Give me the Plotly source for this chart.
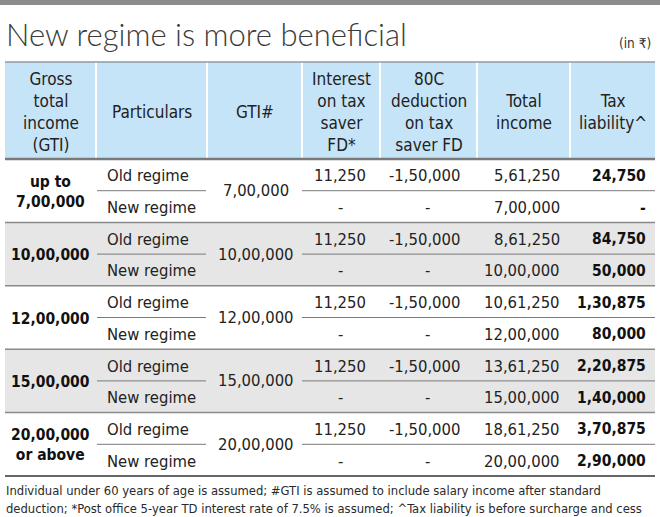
"""
Tax regime comparison table rebuilt with plotly shapes and annotations
"""
import plotly.graph_objects as go

# ---- data ----
title = "New regime is more beneficial"
unit_note = "(in ₹)"
headers = [
    "Gross<br>total<br>income<br>(GTI)",
    "Particulars",
    "GTI#",
    "Interest<br>on tax<br>saver<br>FD*",
    "80C<br>deduction<br>on tax<br>saver FD",
    "Total<br>income",
    "Tax<br>liability^",
]
income_slabs = ["up to<br>7,00,000", "10,00,000", "12,00,000", "15,00,000", "20,00,000<br>or above"]
particulars = ["Old regime", "New regime"]
gti = ["7,00,000", "10,00,000", "12,00,000", "15,00,000", "20,00,000"]
old_interest = ["11,250", "11,250", "11,250", "11,250", "11,250"]
old_80c = ["-1,50,000", "-1,50,000", "-1,50,000", "-1,50,000", "-1,50,000"]
old_total = ["5,61,250", "8,61,250", "10,61,250", "13,61,250", "18,61,250"]
old_tax = ["24,750", "84,750", "1,30,875", "2,20,875", "3,70,875"]
new_interest = ["-", "-", "-", "-", "-"]
new_80c = ["-", "-", "-", "-", "-"]
new_total = ["7,00,000", "10,00,000", "12,00,000", "15,00,000", "20,00,000"]
new_tax = ["-", "50,000", "80,000", "1,40,000", "2,90,000"]
footnotes = [
    "Individual under 60 years of age is assumed; #GTI is assumed to include salary income after standard",
    "deduction; *Post office 5-year TD interest rate of 7.5% is assumed; ^Tax liability is before surcharge and cess",
]

# ---- layout constants ----
W, H = 660, 517
col_edges = [5, 96, 207, 302, 380, 477, 570, 655]
head_top, head_bot = 62, 159
group_h = 63.4
FONT = "DejaVu Sans Condensed, Liberation Sans Narrow, sans-serif"
TXT = "#222222"
BOLD_TXT = "#111111"
BLUE = "#c6e4f7"
GREY_BG = "#e6e6e6"

fig = go.Figure()
shapes = []
annotations = []


def ann(text, x, y, size, anchor="center", color=TXT, family=FONT, weight=None):
    f = dict(family=family, size=size, color=color)
    if weight is not None:
        f["weight"] = weight
    annotations.append(dict(
        text=text, x=x, y=y, xref="x", yref="y", showarrow=False,
        xanchor=anchor, yanchor="middle", align=anchor if anchor != "center" else "center",
        font=f,
    ))


# top bar
shapes.append(dict(type="rect", x0=0, x1=W, y0=0, y1=5, fillcolor="#8c8c8c", line_width=0))

# title + unit
ann(title, 4, 34, 31, anchor="left", color="#3a3a3a", family="Lato, Roboto, sans-serif", weight=300)
ann(unit_note, 653, 43, 13.5, anchor="right", color="#333333")

# header band
shapes.append(dict(type="rect", x0=col_edges[0], x1=col_edges[-1], y0=head_top, y1=head_bot,
                   fillcolor=BLUE, line_width=0))
for xe in col_edges[1:-1]:
    shapes.append(dict(type="line", x0=xe, x1=xe, y0=head_top, y1=head_bot,
                       line=dict(color="white", width=2)))
shapes.append(dict(type="line", x0=col_edges[0], x1=col_edges[-1], y0=head_top, y1=head_top,
                   line=dict(color="#8f9ba3", width=1.5)))
for i, h in enumerate(headers):
    cx = (col_edges[i] + col_edges[i + 1]) / 2
    ann(h, cx, (head_top + head_bot) / 2 + 1, 17)

# body groups
for g in range(len(income_slabs)):
    top = head_bot + g * group_h
    mid = top + group_h / 2
    r1, r2 = top + group_h * 0.25 + 1, top + group_h * 0.75 + 1
    if g % 2 == 1:
        shapes.append(dict(type="rect", x0=col_edges[0], x1=col_edges[-1], y0=top, y1=top + group_h,
                           fillcolor=GREY_BG, line_width=0, layer="below"))
    if g > 0:
        shapes.append(dict(type="line", x0=col_edges[0], x1=col_edges[-1], y0=top, y1=top,
                           line=dict(color="#8a8a8a", width=1.5)))
    # sub-row dividers
    shapes.append(dict(type="line", x0=col_edges[1] + 1, x1=col_edges[2] - 1, y0=mid, y1=mid,
                       line=dict(color="#7a7a7a", width=1)))
    shapes.append(dict(type="line", x0=col_edges[3], x1=col_edges[-1], y0=mid, y1=mid,
                       line=dict(color="#7a7a7a", width=1)))

    ann("<b>" + income_slabs[g] + "</b>", (col_edges[0] + col_edges[1]) / 2, mid + 1, 15.5, color=BOLD_TXT)
    ann(particulars[0], col_edges[1] + 9, r1, 16.5, anchor="left")
    ann(particulars[1], col_edges[1] + 9, r2, 16.5, anchor="left")
    ann(gti[g], (col_edges[2] + col_edges[3]) / 2 + 1, mid, 16.5)
    ann(old_interest[g], 340, r1, 16.5)
    ann(new_interest[g], 340, r2, 16.5)
    ann(old_80c[g], 424, r1, 16.5)
    ann(new_80c[g], 427, r2, 16.5)
    ann(old_total[g], 562, r1, 16.5, anchor="right")
    ann(new_total[g], 562, r2, 16.5, anchor="right")
    ann("<b>" + old_tax[g] + "</b>", 648, r1, 15.5, anchor="right", color=BOLD_TXT)
    ann("<b>" + new_tax[g] + "</b>", 648, r2, 15.5, anchor="right", color=BOLD_TXT)

# header bottom and table bottom rules
shapes.append(dict(type="line", x0=col_edges[0], x1=col_edges[-1], y0=head_bot, y1=head_bot,
                   line=dict(color="#7a7a7a", width=2.5)))
table_bot = head_bot + len(income_slabs) * group_h
shapes.append(dict(type="line", x0=col_edges[0], x1=col_edges[-1], y0=table_bot, y1=table_bot,
                   line=dict(color="#666666", width=2)))

# footnotes
ann(footnotes[0], 4, 490, 12.9, anchor="left", color="#2a2a2a")
ann(footnotes[1], 4, 508, 12.9, anchor="left", color="#2a2a2a")

fig.update_layout(
    width=W, height=H,
    margin=dict(l=0, r=0, t=0, b=0),
    paper_bgcolor="white",
    plot_bgcolor="white",
    xaxis=dict(range=[0, W], visible=False, fixedrange=True),
    yaxis=dict(range=[H, 0], visible=False, fixedrange=True),
    shapes=shapes,
    annotations=annotations,
    showlegend=False,
)

# drop the default page margin so the 660x517 figure fills the window
fig.write_html("out.html", config={"displayModeBar": False},
               post_script="document.body.style.margin='0';document.body.style.overflow='hidden';")
